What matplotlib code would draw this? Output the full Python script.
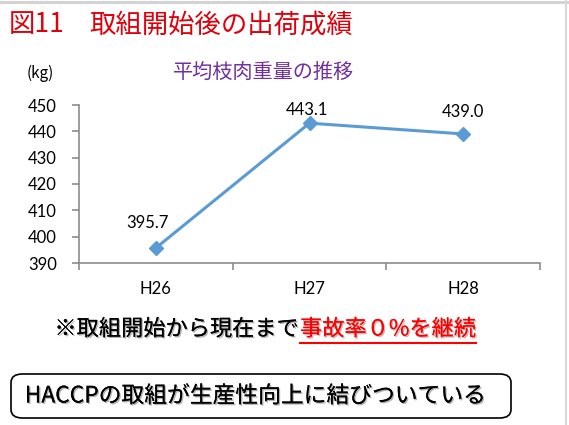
import matplotlib
matplotlib.use("Agg")
import matplotlib.pyplot as plt
import matplotlib.patheffects as pe
from matplotlib.patches import FancyBboxPatch

plt.rcParams['font.family'] = ['Noto Sans CJK JP', 'DejaVu Sans']

years = ['H26', 'H27', 'H28']
weights = [395.7, 443.1, 439.0]
yticks = [390, 400, 410, 420, 430, 440, 450]
# label offsets in points (Excel nudges them a bit)
label_offsets = [(-6, 12), (-2, 4), (0, 10)]

W, H = 569, 425
fig = plt.figure(figsize=(W / 100, H / 100), dpi=100)

# light slide border
fig.add_artist(plt.Line2D([0, 1], [1 - 1.5 / H, 1 - 1.5 / H], color='#d0d0d0', lw=2))
fig.add_artist(plt.Line2D([1 - 3 / W, 1 - 3 / W], [0, 1], color='#d8d8d8', lw=1.5))

fig.text(9 / W, 1 - 25 / H, '図11', color='#e0000b', fontsize=19, va='center', ha='left')
fig.text(89 / W, 1 - 25 / H, '取組開始後の出荷成績', color='#e0000b',
         fontsize=19, va='center', ha='left')

fig.text(40 / W, 1 - 73 / H, '(kg)', fontsize=11, va='center', ha='center')
fig.text(264 / W, 1 - 72 / H, '平均枝肉重量の推移', color='#7030a0',
         fontsize=14.5, va='center', ha='center')

ax = fig.add_axes([79 / W, 1 - 263 / H, (540 - 79) / W, (263 - 105) / H])
x = list(range(len(years)))
ax.plot(x, weights, color='#5b9bd5', lw=2.2, marker='D', ms=7, zorder=3, clip_on=False)
for xi, v, off in zip(x, weights, label_offsets):
    ax.annotate(f'{v:.1f}', (xi, v), textcoords='offset points', xytext=off,
                ha='center', va='bottom', fontsize=12, family=['Lato', 'DejaVu Sans'])

ax.set_xlim(-0.5, 2.5)
ax.set_ylim(390, 450)
ax.set_yticks(yticks)
ax.set_xticks(x)
ax.set_xticklabels(years)
ax.set_xticks([-0.5, 0.5, 1.5, 2.5], minor=True)
for s in ['top', 'right']:
    ax.spines[s].set_visible(False)
for s in ['left', 'bottom']:
    ax.spines[s].set_color('#8c8c8c')
    ax.spines[s].set_linewidth(1.2)
ax.tick_params(axis='y', length=5, width=1.2, color='#8c8c8c', labelsize=12, pad=11)
ax.tick_params(axis='x', which='major', length=0, labelsize=12, pad=13)
ax.tick_params(axis='x', which='minor', length=5, width=1.2, color='#8c8c8c')
for lab in ax.get_yticklabels() + ax.get_xticklabels():
    lab.set_family(['Lato', 'DejaVu Sans'])

shadow = [pe.withSimplePatchShadow(offset=(1, -1), alpha=0.3), pe.Normal()]
fig.text(299 / W, 1 - 329 / H, '※取組開始から現在まで', fontsize=16,
         ha='right', va='center', path_effects=shadow)
t2 = fig.text(300 / W, 1 - 329 / H, '事故率０%を継続', fontsize=16, color='#ff0000',
              ha='left', va='center', path_effects=shadow)
fig.canvas.draw()
bb = t2.get_window_extent()
fig.add_artist(plt.Line2D([bb.x0 / W, bb.x1 / W], [1 - 343 / H, 1 - 343 / H],
                          color='#ff0000', lw=1.5))

box = FancyBboxPatch((11 / W, 1 - 418 / H), (511 - 11) / W, (418 - 374) / H,
                     boxstyle='round,pad=0,rounding_size=0.02',
                     transform=fig.transFigure, fc='white', ec='black', lw=1.2)
fig.add_artist(box)
fig.text(255 / W, 1 - 396 / H, 'HACCPの取組が生産性向上に結びついている', fontsize=16.4,
         ha='center', va='center', path_effects=shadow)

fig.savefig('out.png', dpi=100)
